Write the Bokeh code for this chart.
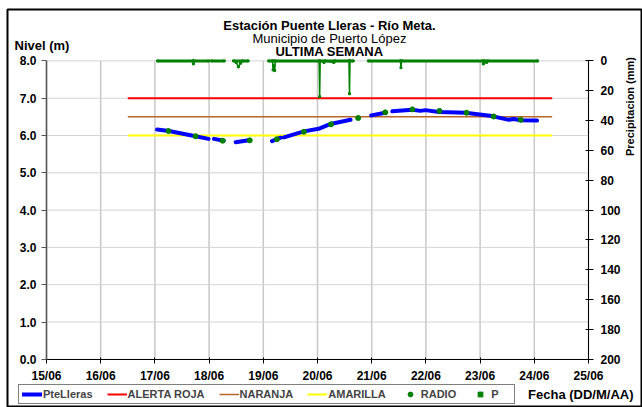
import math
from bokeh.plotting import figure
from bokeh.models import (Range1d, LinearAxis, FixedTicker, Label, Legend, LegendItem,
                          NumeralTickFormatter)
from bokeh.embed import file_html
from bokeh.resources import INLINE

nan = float("nan")

# ---------------- data (x in days of June; 15.0 = 15/06 00:00) ----------------
date_ticks = [15, 16, 17, 18, 19, 20, 21, 22, 23, 24, 25]
date_labels = ["15/06", "16/06", "17/06", "18/06", "19/06", "20/06",
               "21/06", "22/06", "23/06", "24/06", "25/06"]
level_ticks = [0, 1, 2, 3, 4, 5, 6, 7, 8]
precip_ticks = [0, 20, 40, 60, 80, 100, 120, 140, 160, 180, 200]

# PteLleras level series (NaN = gaps in the record)
level_t = [17.04, 17.26, 17.75, 17.99, nan, 18.09, 18.27, nan, 18.49, 18.73, nan,
           19.16, 19.32, nan, 19.38, 19.75, 20.02, 20.24, 20.61, nan,
           20.99, 21.25, nan, 21.38, 21.75, 21.90, 21.99, 22.24, 22.73,
           23.22, 23.53, 23.62, 23.75, 24.05]
level_m = [6.16, 6.12, 5.98, 5.91, nan, 5.91, 5.86, nan, 5.82, 5.87, nan,
           5.85, 5.94, nan, 5.95, 6.11, 6.18, 6.31, 6.42, nan,
           6.54, 6.61, nan, 6.65, 6.69, 6.66, 6.68, 6.63, 6.61,
           6.52, 6.42, 6.44, 6.41, 6.40]

# RADIO readings
radio_t = [17.25, 17.75, 18.25, 18.75, 19.25, 19.75, 20.25, 20.75,
           21.25, 21.75, 22.25, 22.75, 23.25, 23.75]
radio_m = [6.12, 5.98, 5.86, 5.87, 5.90, 6.10, 6.30, 6.47,
           6.62, 6.70, 6.66, 6.61, 6.51, 6.42]

# alert thresholds
thr_t = [16.5, 24.33]
roja = [7.0, 7.0]
naranja = [6.5, 6.5]
amarilla = [6.0, 6.0]

# precipitation P (mm)
p_t = [17.05, 17.70, 17.71, 17.72, 17.99, nan,
       18.04, 18.28, nan,
       18.45, 18.50, 18.54, 18.58, 18.62, 18.72, nan,
       19.10, 19.17, 19.18, 19.20, 19.21, 19.22, 20.03, 20.04, 20.05,
       20.12, 20.14, 20.30, 20.32, 20.58, 20.59, 20.60, 20.66, nan,
       20.94, 21.53, 21.54, 21.55, 23.05, 23.06, 23.07, 23.12, 23.14, 24.06]
p_mm = [0, 0, 2, 0, 0, nan,
        0, 0, nan,
        0, 1, 4, 1.5, 0, 0, nan,
        0, 0, 6, 3, 6.5, 0, 0, 24, 0,
        1, 0, 1, 0, 0, 22, 0, 0, nan,
        0, 0, 4.5, 0, 0, 2, 0, 1, 0, 0]

# ---------------- layout (pixels) ----------------
W, H = 642, 407
FL, FT, FR, FB = 7, 9, 641, 406          # frame = bordered chart box
AX_X0, AX_X1 = 46.0, 588.0               # pixel x of 15/06 and 25/06
AX_Y0, AX_Y8 = 358.8, 60.4               # pixel y of level 0 and level 8
FONT = "Liberation Sans"


def px_x(px):
    return date_ticks[0] + (px - AX_X0) * (date_ticks[-1] - date_ticks[0]) / (AX_X1 - AX_X0)


def px_y(py):
    return (AX_Y0 - py) * level_ticks[-1] / (AX_Y0 - AX_Y8)


def lvl_to_mm(lv):
    return (level_ticks[-1] - lv) * precip_ticks[-1] / level_ticks[-1]


p = figure(width=W, height=H, output_backend="svg", toolbar_location=None, title=None,
           x_range=Range1d(px_x(FL), px_x(FR)), y_range=Range1d(px_y(FB), px_y(FT)),
           min_border_left=FL, min_border_top=FT, min_border_right=W - FR,
           min_border_bottom=H - FB, background_fill_color="white",
           border_fill_color="white")
p.extra_y_ranges = {"precip": Range1d(lvl_to_mm(px_y(FB)), lvl_to_mm(px_y(FT)))}
p.outline_line_color = "black"
p.outline_line_width = 2
p.xgrid.visible = False
p.ygrid.visible = False

# x axis at level 0
xa = p.xaxis[0]
xa.fixed_location = level_ticks[0]
xa.bounds = (date_ticks[0], date_ticks[-1])
xa.ticker = FixedTicker(ticks=date_ticks)
xa.major_label_overrides = {t: l for t, l in zip(date_ticks, date_labels)}
xa.minor_tick_line_color = None
xa.major_tick_in = 2
xa.major_tick_out = 4
xa.axis_line_color = "black"
xa.major_tick_line_color = "black"
xa.major_label_standoff = 6

# left axis at 15/06
ya = p.yaxis[0]
ya.fixed_location = date_ticks[0]
ya.bounds = (level_ticks[0], level_ticks[-1])
ya.ticker = FixedTicker(ticks=level_ticks)
ya.formatter = NumeralTickFormatter(format="0.0")
ya.minor_tick_line_color = None
ya.major_tick_in = 0
ya.major_tick_out = 5
ya.axis_line_color = "#555555"
ya.axis_line_width = 1.5
ya.major_tick_line_color = "#555555"
ya.major_label_standoff = 5

# right axis at 25/06 (precipitation, reversed)
ra = LinearAxis(y_range_name="precip", ticker=FixedTicker(ticks=precip_ticks),
                fixed_location=date_ticks[-1],
                bounds=(precip_ticks[0], precip_ticks[-1]))
ra.minor_tick_line_color = None
ra.major_tick_in = 3
ra.major_tick_out = 5
ra.axis_line_color = "black"
ra.major_tick_line_color = "black"
ra.major_label_standoff = 7
p.add_layout(ra, "right")

for ax in (xa, ya, ra):
    ax.major_label_text_font = FONT
    ax.major_label_text_font_style = "bold"
    ax.major_label_text_font_size = "12px"
    ax.major_label_text_color = "black"

# grid lines limited to the axes box
p.segment(x0=date_ticks, x1=date_ticks, y0=[level_ticks[0]] * len(date_ticks),
          y1=[level_ticks[-1]] * len(date_ticks), line_color="#c8c8c8", line_width=1.5)
p.segment(x0=[date_ticks[0]] * len(level_ticks), x1=[date_ticks[-1]] * len(level_ticks),
          y0=level_ticks, y1=level_ticks, line_color="#d4d4d4", line_width=1)

# series
r_roja = p.line(thr_t, roja, line_color="#ff0000", line_width=2)
r_nar = p.line(thr_t, naranja, line_color="#b8652a", line_width=1.5)
r_ama = p.line(thr_t, amarilla, line_color="#ffff00", line_width=2)
r_lvl = p.line(level_t, level_m, line_color="#0000ff", line_width=4, line_cap="round")
r_radio = p.scatter(radio_t, radio_m, marker="circle", size=5, fill_color="#008000",
                    line_color="#008000")
zero_v = [nan if (isinstance(v, float) and math.isnan(v)) else 0 for v in p_mm]
p.line(p_t, zero_v, y_range_name="precip", line_color="#008000", line_width=3)
p.line(p_t, p_mm, y_range_name="precip", line_color="#008000", line_width=1.5)
r_p = p.scatter(p_t, p_mm, y_range_name="precip", marker="square", size=2,
                fill_color="#008000", line_color="#008000")

legend = Legend(items=[
    LegendItem(label="PteLleras", renderers=[r_lvl]),
    LegendItem(label="ALERTA ROJA", renderers=[r_roja]),
    LegendItem(label="NARANJA", renderers=[r_nar]),
    LegendItem(label="AMARILLA", renderers=[r_ama]),
    LegendItem(label="RADIO", renderers=[r_radio]),
    LegendItem(label="P", renderers=[r_p]),
], orientation="horizontal", location=(11, 2))
legend.label_text_font = FONT
legend.label_text_font_style = "bold"
legend.label_text_font_size = "11px"
legend.glyph_width = 20
legend.glyph_height = 12
legend.label_height = 12
legend.label_standoff = 1
legend.spacing = 14
legend.padding = 3
legend.margin = 0
legend.border_line_color = "black"
legend.border_line_width = 1
legend.background_fill_color = "white"
legend.background_fill_alpha = 1.0
p.add_layout(legend, "center")


def lab(text, px, py, size, style="bold", align="center", angle=0.0):
    p.add_layout(Label(x=px_x(px), y=px_y(py), text=text, text_font=FONT,
                       text_font_style=style, text_font_size=size, text_align=align,
                       text_baseline="middle", angle=angle, text_color="black"))


lab("Estación Puente Lleras - Río Meta.", 329, 25, "13px")
lab("Municipio de Puerto López", 329, 38, "13px", style="normal")
lab("ULTIMA SEMANA", 329, 51, "13px")
lab("Nivel (m)", 14, 45, "13px", align="left")
lab("Fecha (DD/M/AA)", 633, 394, "13px", align="right")
lab("Precipitacion (mm)", 629, 106, "11px", angle=math.pi / 2)

open("out.html", "w").write(file_html(p, INLINE))
